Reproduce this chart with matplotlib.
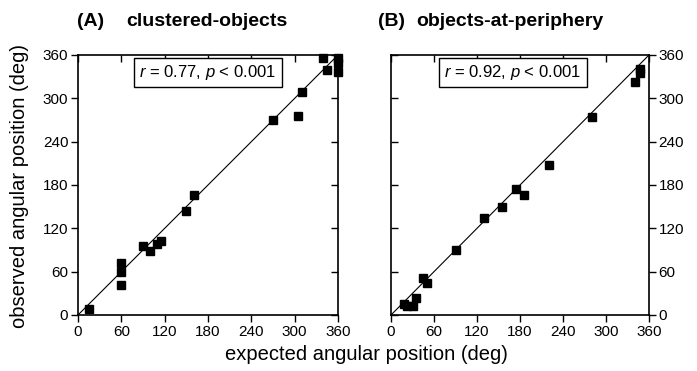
import matplotlib
matplotlib.use("Agg")
import matplotlib.pyplot as plt

plt.rcParams['font.family'] = ['Liberation Sans', 'DejaVu Sans']
plt.rcParams['mathtext.fontset'] = 'custom'
plt.rcParams['mathtext.it'] = 'Liberation Sans:italic'
plt.rcParams['mathtext.rm'] = 'Liberation Sans'

# panel A: clustered-objects
a_expected = [15, 60, 60, 60, 90, 100, 110, 115, 150, 160, 270, 305, 310, 339, 345, 360, 360, 360]
a_observed = [9, 72, 60, 42, 95, 88, 98, 103, 144, 166, 270, 275, 309, 356, 339, 356, 349, 337]

# panel B: objects-at-periphery
b_expected = [18, 23, 30, 35, 45, 50, 90, 130, 155, 175, 185, 221, 281, 341, 347, 347]
b_observed = [15, 12, 12, 23, 51, 44, 90, 135, 149, 175, 166, 208, 274, 322, 335, 340]

diag = [0, 360]
ticks = [0, 60, 120, 180, 240, 300, 360]
stats_a = r"$r$ = 0.77, $p$ < 0.001"
stats_b = r"$r$ = 0.92, $p$ < 0.001"

fig = plt.figure(figsize=(6.97, 3.71), dpi=100)
ax_a = fig.add_axes([78 / 697, 56 / 371, 260 / 697, 260 / 371])
ax_b = fig.add_axes([391 / 697, 56 / 371, 258 / 697, 260 / 371])


def style(ax, labels_left):
    ax.set_xlim(0, 360)
    ax.set_ylim(0, 360)
    ax.set_xticks(ticks)
    ax.set_yticks(ticks)
    for s in ax.spines.values():
        s.set_linewidth(1.2)
    ax.tick_params(axis='x', direction='out', length=5, width=1,
                   labelsize=11, top=False, pad=2)
    # inward ticks on the top edge
    sec = ax.secondary_xaxis('top')
    sec.set_xticks(ticks)
    sec.tick_params(direction='in', length=5, width=1, labeltop=False)
    if labels_left:
        ax.tick_params(axis='y', direction='out', length=5, width=1, labelsize=11,
                       left=True, right=False, pad=2)
        sec_y = ax.secondary_yaxis('right')
        sec_y.tick_params(direction='in', length=5, width=1, labelright=False)
    else:
        ax.yaxis.tick_right()
        ax.tick_params(axis='y', direction='out', length=5, width=1, labelsize=11,
                       left=False, right=True, pad=2)
        sec_y = ax.secondary_yaxis('left')
        sec_y.tick_params(direction='in', length=5, width=1, labelleft=False)
    sec_y.set_yticks(ticks)
    for sp in list(sec_y.spines.values()) + list(sec.spines.values()):
        sp.set_visible(False)


style(ax_a, True)
style(ax_b, False)

ax_a.plot(diag, diag, color='black', linewidth=0.8)
ax_a.plot(a_expected, a_observed, 's', color='black', markersize=5.5, clip_on=False)
ax_b.plot(diag, diag, color='black', linewidth=0.8)
ax_b.plot(b_expected, b_observed, 's', color='black', markersize=5.5, clip_on=False)

box = dict(boxstyle='square,pad=0.32', facecolor='white', edgecolor='black', linewidth=1)
ax_a.text(180, 349, stats_a, ha='center', va='top', fontsize=12, bbox=box)
ax_b.text(170, 349, stats_b, ha='center', va='top', fontsize=12, bbox=box)

title_y = 1 - 22 / 371
fig.text(77 / 697, title_y, "(A)", fontsize=14, fontweight='bold', va='center')
fig.text(126 / 697, title_y, "clustered-objects", fontsize=14, fontweight='bold', va='center')
fig.text(378 / 697, title_y, "(B)", fontsize=14, fontweight='bold', va='center')
fig.text(416 / 697, title_y, "objects-at-periphery", fontsize=14, fontweight='bold', va='center')

fig.text(366 / 697, 1 - 354 / 371, "expected angular position (deg)", fontsize=14.5,
         ha='center', va='center')
fig.text(20 / 697, 1 - 186 / 371, "observed angular position (deg)", fontsize=14.5,
         ha='center', va='center', rotation=90)

fig.savefig("out.png", dpi=100)
